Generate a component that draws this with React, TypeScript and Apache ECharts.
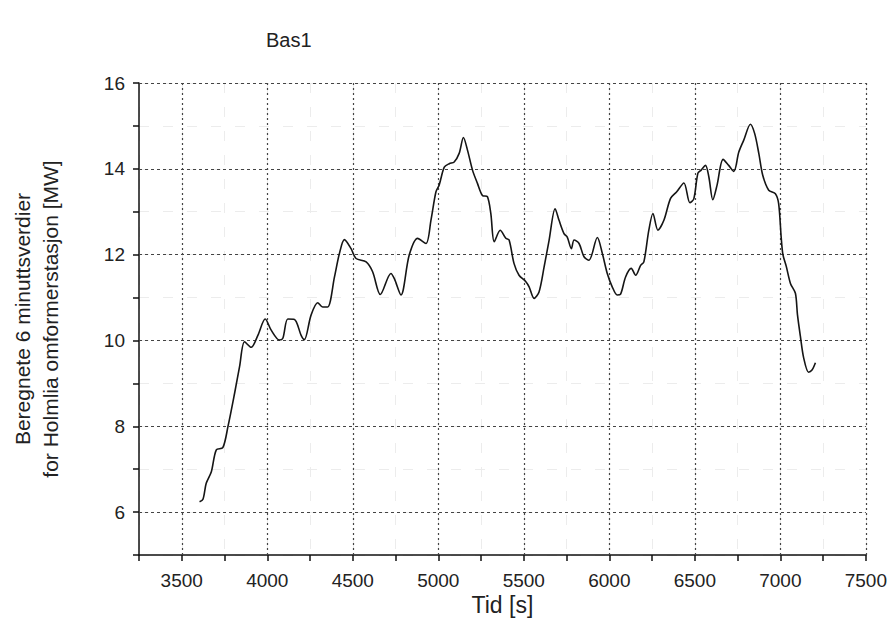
import React, { useEffect, useRef } from "react";
import * as echarts from "echarts";

const titleText = "Bas1";
const xName = "Tid [s]";
const yName = "Beregnete 6 minuttsverdier\nfor Holmlia omformerstasjon [MW]";

const timeSec = [
  3604, 3624, 3643, 3673, 3702, 3740, 3770, 3809, 3838, 3867, 3906, 3945, 3988, 4023, 4071, 4091,
  4120, 4159, 4198, 4217, 4256, 4295, 4324, 4353, 4393, 4422, 4451, 4490, 4519, 4578, 4616, 4661,
  4723, 4743, 4782, 4830, 4879, 4928, 4957, 4986, 5005, 5035, 5064, 5093, 5122, 5147, 5171, 5200,
  5229, 5258, 5287, 5307, 5327, 5362, 5395, 5414, 5443, 5472, 5512, 5531, 5560, 5589, 5619, 5648,
  5683, 5706, 5735, 5754, 5778, 5794, 5823, 5852, 5881, 5930, 5959, 5988, 6017, 6046, 6066, 6095,
  6128, 6154, 6183, 6202, 6231, 6255, 6284, 6319, 6358, 6393, 6436, 6471, 6494, 6518, 6537, 6562,
  6582, 6605, 6630, 6665, 6698, 6728, 6757, 6786, 6825, 6850, 6874, 6897, 6932, 6971, 6990, 7005,
  7015, 7035, 7059, 7088, 7100, 7117, 7136, 7165, 7185, 7205,
];

const powerMW = [
  6.24, 6.3, 6.67, 6.94, 7.45, 7.5, 7.99, 8.77, 9.39, 9.97, 9.84, 10.12, 10.5, 10.24, 10.01, 10.05,
  10.5, 10.49, 10.12, 10.02, 10.59, 10.88, 10.78, 10.78, 11.48, 12.03, 12.35, 12.14, 11.91, 11.83, 11.6, 11.07,
  11.56, 11.44, 11.06, 11.99, 12.38, 12.26, 12.8, 13.46, 13.62, 14.04, 14.12, 14.16, 14.36, 14.73, 14.43, 13.97,
  13.66, 13.38, 13.35, 12.96, 12.3, 12.57, 12.38, 12.34, 11.79, 11.52, 11.37, 11.25, 10.98, 11.13, 11.72, 12.34,
  13.07, 12.8, 12.49, 12.41, 12.14, 12.34, 12.26, 11.95, 11.87, 12.4, 12.03, 11.56, 11.25, 11.06, 11.08, 11.48,
  11.68, 11.52, 11.75, 11.83, 12.57, 12.96, 12.57, 12.8, 13.31, 13.46, 13.67, 13.21, 13.3, 13.9, 13.97, 14.08,
  13.81, 13.28, 13.62, 14.22, 14.08, 13.94, 14.39, 14.67, 15.04, 14.82, 14.36, 13.85, 13.5, 13.42, 13.19, 12.4,
  12.0, 11.72, 11.33, 11.1, 10.6, 10.1, 9.6, 9.26, 9.31, 9.48,
];

const xMajorTicks = [3500, 4000, 4500, 5000, 5500, 6000, 6500, 7000, 7500];
const yMajorTicks = [6, 8, 10, 12, 14, 16];

const FONT = "'Liberation Sans', Arial, sans-serif";

export default function App() {
  const ref = useRef<HTMLDivElement>(null);

  useEffect(() => {
    if (!ref.current) return;
    const chart = echarts.init(ref.current, null, { renderer: "svg" });
    const seriesData = timeSec.map((t, i) => [t, powerMW[i]]);
    const gridMarks = [
      ...xMajorTicks.map((v) => ({ xAxis: v, lineStyle: { type: [2, 3] } })),
      ...yMajorTicks.map((v) => ({ yAxis: v, lineStyle: { type: [3, 3] } })),
    ];
    chart.setOption({
      animation: false,
      backgroundColor: "#ffffff",
      textStyle: { fontFamily: FONT },
      title: {
        text: titleText,
        left: 261,
        top: 25,
        textStyle: { fontSize: 20, fontWeight: "normal", color: "#222", fontFamily: FONT },
      },
      grid: { left: 139, right: 23, top: 83, bottom: 74, containLabel: false },
      xAxis: {
        type: "value",
        min: 3250,
        max: 7500,
        interval: 250,
        name: xName,
        nameLocation: "middle",
        nameGap: 38,
        nameMoveOverlap: false,
        nameTextStyle: { fontSize: 23, color: "#222", fontFamily: FONT },
        axisLine: { show: true, lineStyle: { color: "#111", width: 1.5 } },
        axisTick: { show: true, length: 6, lineStyle: { color: "#111", width: 1.5 } },
        axisLabel: {
          margin: 16,
          fontSize: 19,
          color: "#222",
          fontFamily: FONT,
          formatter: (v: number) => (v % 500 === 0 ? String(v) : ""),
        },
        splitLine: { show: true, lineStyle: { color: "#ececec", type: [10, 14], width: 1 } },
      },
      yAxis: {
        type: "value",
        min: 5,
        max: 16,
        interval: 1,
        name: yName,
        nameLocation: "middle",
        nameGap: 75,
        nameMoveOverlap: false,
        nameTextStyle: { fontSize: 21, lineHeight: 28, color: "#222", fontFamily: FONT },
        axisLine: { show: true, lineStyle: { color: "#111", width: 1.5 } },
        axisTick: { show: true, length: 6, lineStyle: { color: "#111", width: 1.5 } },
        axisLabel: {
          margin: 14,
          fontSize: 19,
          color: "#222",
          fontFamily: FONT,
          formatter: (v: number) => (v % 2 === 0 ? String(v) : ""),
        },
        splitLine: { show: true, lineStyle: { color: "#ececec", type: [10, 14], width: 1 } },
      },
      series: [
        {
          type: "line",
          data: seriesData,
          showSymbol: false,
          smooth: 0.3,
          lineStyle: { color: "#151515", width: 1.6 },
          z: 3,
          markLine: {
            silent: true,
            symbol: "none",
            label: { show: false },
            emphasis: { disabled: true },
            lineStyle: { color: "#444", width: 1.2 },
            data: gridMarks,
            z: 1,
          },
        },
      ],
    });
    return () => chart.dispose();
  }, []);

  return (
    <div
      ref={ref}
      style={{ position: "fixed", left: 0, top: 0, width: 890, height: 629, background: "#fff" }}
    />
  );
}
